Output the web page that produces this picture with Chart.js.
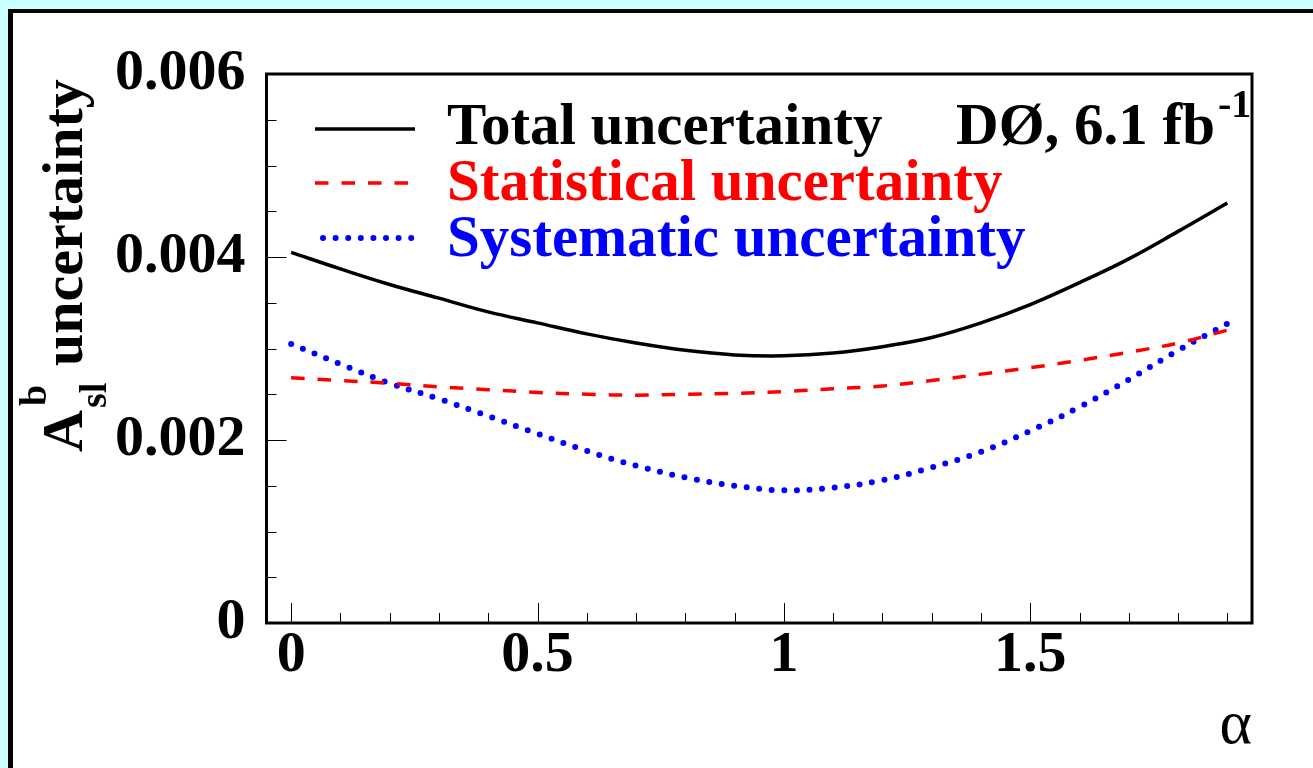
<!DOCTYPE html>
<html>
<head>
<meta charset="utf-8">
<script src="https://cdn.jsdelivr.net/npm/chart.js@4.4.1/dist/chart.umd.min.js"></script>
<style>
  html, body { margin: 0; padding: 0; }
  body { width: 1313px; height: 768px; background: #ccffff; position: relative; overflow: hidden; }
  #panel { position: absolute; left: 8px; top: 9px; width: 1400px; height: 900px; background: #fff;
           border-left: 5px solid #000; border-top: 4px solid #000; }
  #wrap { position: absolute; left: 0; top: 0; width: 1313px; height: 768px; }
</style>
</head>
<body>
<div id="panel"></div>
<div id="wrap"><canvas id="chart" width="1313" height="768"></canvas></div>
<script>
// values
const alpha    = [0, 0.1, 0.2, 0.3, 0.4, 0.5, 0.6, 0.7, 0.8, 0.9, 1.0, 1.1, 1.2, 1.3, 1.4, 1.5, 1.6, 1.7, 1.8, 1.9];
const totalUnc = [0.00405, 0.00387, 0.00370, 0.00355, 0.00340, 0.00328, 0.00316, 0.00306, 0.00298, 0.00293,
                  0.00292, 0.00295, 0.00302, 0.00312, 0.00328, 0.00348, 0.00372, 0.00398, 0.00428, 0.00459];
const statUnc  = [0.00268, 0.00265, 0.00262, 0.00258, 0.00255, 0.00252, 0.00250, 0.00249, 0.00250, 0.00251,
                  0.00253, 0.00256, 0.00259, 0.00265, 0.00272, 0.00279, 0.00287, 0.00296, 0.00306, 0.00320];
const systUnc  = [0.00305, 0.00283, 0.00262, 0.00245, 0.00226, 0.00207, 0.00188, 0.00172, 0.00159, 0.00150,
                  0.00145, 0.00148, 0.00156, 0.00170, 0.00187, 0.00210, 0.00236, 0.00266, 0.00298, 0.00327];

const xTickValues = [0, 0.5, 1, 1.5];
const yTickValues = [0, 0.002, 0.004, 0.006];
const seriesNames = ['Total uncertainty', 'Statistical uncertainty', 'Systematic uncertainty'];
const seriesColors = ['#000000', '#ff0000', '#0000ff'];

const FONT = '"Liberation Serif", "Times New Roman", serif';
const tickFont = { family: FONT, size: 58, weight: 'bold', lineHeight: 1 };

function pts(ys) {
  return alpha.map((a, i) => ({ x: a, y: ys[i] }));
}

const styles = [
  { borderWidth: 3.5, borderDash: [] },
  { borderWidth: 3.5, borderDash: [13.5, 13] },
  { borderWidth: 6, borderDash: [0, 12.6], borderCapStyle: 'round' }
];

// frame, inward ticks, legend and axis titles
const decorations = {
  id: 'decorations',
  afterDraw(chart) {
    const ctx = chart.ctx;
    const a = chart.chartArea;
    const xs = chart.scales.x, ys = chart.scales.y;
    ctx.save();

    // ticks
    ctx.strokeStyle = '#000';
    ctx.lineWidth = 1;
    ctx.beginPath();
    for (let i = 0; i <= 19; i++) {
      const px = Math.round(xs.getPixelForValue(i / 10)) + 0.5;
      const len = i % 5 === 0 ? 20 : 10;
      ctx.moveTo(px, a.bottom);
      ctx.lineTo(px, a.bottom - len);
    }
    for (let i = 0; i <= 12; i++) {
      const py = Math.round(ys.getPixelForValue(i * 0.0005)) + 0.5;
      const len = i % 4 === 0 ? 20 : 10;
      ctx.moveTo(a.left, py);
      ctx.lineTo(a.left + len, py);
    }
    ctx.stroke();

    // frame
    ctx.lineWidth = 3;
    ctx.strokeRect(a.left, a.top, a.right - a.left, a.bottom - a.top);

    // legend
    const rows = [129, 183, 238];
    const base = [144, 200, 256];
    ctx.font = 'bold 59px ' + FONT;
    ctx.textBaseline = 'alphabetic';
    ctx.textAlign = 'left';
    chart.data.datasets.forEach((ds, i) => {
      ctx.save();
      ctx.strokeStyle = ds.borderColor;
      ctx.lineWidth = ds.borderWidth;
      ctx.setLineDash(ds.borderDash);
      ctx.lineCap = ds.borderCapStyle || 'butt';
      ctx.beginPath();
      ctx.moveTo(i === 2 ? 323 : 315, rows[i]);
      ctx.lineTo(415, rows[i]);
      ctx.stroke();
      ctx.restore();
      ctx.fillStyle = ds.borderColor;
      ctx.fillText(ds.label, 447, base[i]);
    });

    // experiment label
    ctx.fillStyle = '#000';
    ctx.textAlign = 'right';
    ctx.fillText('DØ, 6.1 fb', 1215, 144);
    ctx.textAlign = 'left';
    ctx.font = 'bold 40px ' + FONT;
    ctx.fillText('-1', 1218, 117);

    // x title
    ctx.font = '62px ' + FONT;
    ctx.textAlign = 'right';
    ctx.fillText('α', 1252, 743);

    // y title
    ctx.translate(82, 0);
    ctx.rotate(-Math.PI / 2);
    ctx.textAlign = 'left';
    ctx.font = 'bold 58px ' + FONT;
    ctx.fillText('A', -452, 0);
    ctx.fillText('uncertainty', -366, 0);
    ctx.font = 'bold 38px ' + FONT;
    ctx.fillText('sl', -408, 24);
    ctx.fillText('b', -406, -36);

    ctx.restore();
  }
};

new Chart(document.getElementById('chart'), {
  type: 'line',
  data: {
    datasets: [totalUnc, statUnc, systUnc].map((ys, i) => Object.assign({
      label: seriesNames[i],
      data: pts(ys),
      borderColor: seriesColors[i],
      backgroundColor: seriesColors[i],
      pointRadius: 0,
      tension: 0.4,
      fill: false
    }, styles[i]))
  },
  options: {
    responsive: false,
    animation: false,
    layout: { padding: { top: 74, right: 61, left: 0, bottom: 0 } },
    plugins: { legend: { display: false }, tooltip: { enabled: false } },
    scales: {
      x: {
        type: 'linear',
        min: -0.05,
        max: 1.95,
        afterBuildTicks: s => { s.ticks = xTickValues.map(v => ({ value: v })); },
        afterFit: s => { s.height = 145; },
        grid: { display: false, drawTicks: false },
        border: { display: false },
        ticks: {
          font: tickFont, color: '#000', padding: 4, autoSkip: false, maxRotation: 0,
          callback: v => String(v)
        }
      },
      y: {
        min: 0,
        max: 0.006,
        afterBuildTicks: s => { s.ticks = yTickValues.map(v => ({ value: v })); },
        afterFit: s => { s.width = 266.5; },
        grid: { display: false, drawTicks: false },
        border: { display: false },
        ticks: {
          font: tickFont, color: '#000', padding: 21, autoSkip: false,
          callback: v => (v === 0 ? '0' : v.toFixed(3))
        }
      }
    }
  },
  plugins: [decorations]
});
</script>
</body>
</html>
